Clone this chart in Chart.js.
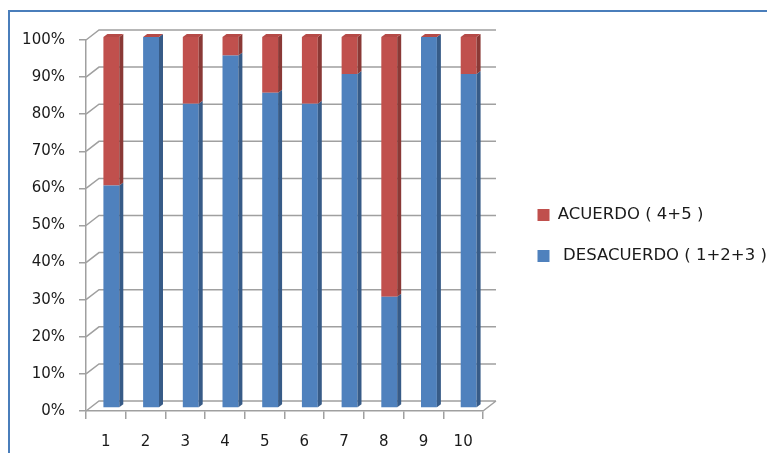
<!DOCTYPE html>
<html>
<head>
<meta charset="utf-8">
<script src="https://cdn.jsdelivr.net/npm/chart.js@4/dist/chart.umd.min.js"></script>
<style>
  html, body { margin: 0; padding: 0; background: #ffffff; overflow: hidden; }
  #wrap { position: relative; width: 767px; height: 453px; }
  #frame { position: absolute; left: 8px; top: 10px; width: 820px; height: 520px; border: 2px solid #4a7ebb; box-sizing: border-box; }
  #c { position: absolute; left: 0; top: 0; }
</style>
</head>
<body>
<div id="wrap">
  <div id="frame"></div>
  <canvas id="c" width="767" height="453"></canvas>
</div>
<script>
// Item numbers along the horizontal axis
const categories = ['1', '2', '3', '4', '5', '6', '7', '8', '9', '10'];
// Share of answers in disagreement (1+2+3), percent
const desacuerdo = [60, 100, 82, 95, 85, 82, 90, 30, 100, 90];
// Share of answers in agreement (4+5), percent
const acuerdo = [40, 0, 18, 5, 15, 18, 10, 70, 0, 10];
// Vertical axis ticks, percent
const yTicks = [0, 10, 20, 30, 40, 50, 60, 70, 80, 90, 100];

const seriesNames = [' DESACUERDO ( 1+2+3 )', 'ACUERDO ( 4+5 )'];
const frontColors = ['#4f81bd', '#c0504d'];
const sideColors = ['#375b87', '#8a3936'];
const topColors = ['#4a7ab4', '#b54a47'];
const gridGray = '#a0a0a0';

Chart.defaults.font.family = "'DejaVu Sans', sans-serif";
Chart.defaults.font.size = 15;
Chart.defaults.color = '#1a1a1a';

// Pseudo-3D look: back wall grid, floor edge and bar side/top faces
const depth3d = {
  id: 'depth3d',
  beforeDatasetsDraw(chart, args, o) {
    const { ctx, chartArea: a, scales: { y } } = chart;
    ctx.save();
    ctx.strokeStyle = o.gridColor;
    ctx.lineWidth = o.gridWidth;
    ctx.beginPath();
    y.ticks.forEach(t => {
      const py = y.getPixelForValue(t.value);
      ctx.moveTo(a.left, py);
      ctx.lineTo(a.left + o.wallDx, py - o.wallDy);
      ctx.lineTo(a.right + o.wallDx, py - o.wallDy);
    });
    ctx.moveTo(a.right, a.bottom);
    ctx.lineTo(a.right + o.wallDx, a.bottom - o.wallDy);
    ctx.stroke();
    ctx.restore();
    ctx.save();
    ctx.translate(o.barDx, o.barDy);
  },
  afterDatasetsDraw(chart, args, o) {
    const { ctx } = chart;
    const n = chart.data.datasets.length;
    for (let i = 0; i < n; i++) {
      const meta = chart.getDatasetMeta(i);
      meta.data.forEach(bar => {
        const p = bar.getProps(['x', 'y', 'base', 'width'], true);
        const x0 = p.x - p.width / 2, x1 = p.x + p.width / 2;
        const top = Math.min(p.y, p.base), bot = Math.max(p.y, p.base);
        ctx.fillStyle = sideColors[i];
        ctx.beginPath();
        ctx.moveTo(x1, top);
        ctx.lineTo(x1 + o.faceDx, top - o.faceDy);
        ctx.lineTo(x1 + o.faceDx, bot - o.faceDy);
        ctx.lineTo(x1, bot);
        ctx.closePath();
        ctx.fill();
        if (i === n - 1) {
          ctx.fillStyle = topColors[i];
          ctx.beginPath();
          ctx.moveTo(x0, top);
          ctx.lineTo(x0 + o.faceDx, top - o.faceDy);
          ctx.lineTo(x1 + o.faceDx, top - o.faceDy);
          ctx.lineTo(x1, top);
          ctx.closePath();
          ctx.fill();
        }
      });
    }
    ctx.restore();
  }
};

// empty spacer scales used only to reserve room around the plot
const spacer = (position, size) => ({
  type: 'linear',
  position,
  display: true,
  grid: { display: false },
  border: { display: false },
  ticks: { display: false },
  afterFit(s) { if (s.isHorizontal()) s.height = size; else s.width = size; }
});

new Chart(document.getElementById('c'), {
  type: 'bar',
  data: {
    labels: categories,
    datasets: [
      { label: seriesNames[0], data: desacuerdo, backgroundColor: frontColors[0], borderWidth: 0 },
      { label: seriesNames[1], data: acuerdo, backgroundColor: frontColors[1], borderWidth: 0 }
    ]
  },
  plugins: [depth3d],
  options: {
    responsive: false,
    animation: false,
    clip: false,
    layout: { padding: { top: 18, bottom: 0, left: 0, right: 0 } },
    datasets: { bar: { categoryPercentage: 1, barPercentage: 0.4 } },
    scales: {
      x: {
        stacked: true,
        grid: { offset: true, drawOnChartArea: false, drawTicks: true, tickLength: 8, color: gridGray, lineWidth: 1.5 },
        border: { display: true, color: gridGray, width: 1.5 },
        ticks: { padding: 14, font: { size: 15 }, color: '#1a1a1a' },
        afterFit(s) { s.height = 42; }
      },
      y: {
        stacked: true,
        min: 0,
        max: 100,
        afterBuildTicks(s) { s.ticks = yTicks.map(v => ({ value: v })); },
        grid: { drawOnChartArea: false, drawTicks: true, tickLength: 7, color: gridGray, lineWidth: 1.5 },
        border: { display: true, color: gridGray, width: 1.5 },
        ticks: { padding: 14, font: { size: 15 }, color: '#1a1a1a', callback: v => v + '%' },
        afterFit(s) { s.width = 86; }
      },
      gapRight: spacer('right', 30),
      gapTop: spacer('top', 22)
    },
    plugins: {
      legend: {
        position: 'right',
        reverse: true,
        maxWidth: 254,
        labels: { boxWidth: 12, boxHeight: 12, padding: 24.5, font: { size: 16.5 }, color: '#1a1a1a' }
      },
      tooltip: { enabled: false },
      depth3d: { gridColor: gridGray, gridWidth: 1.5, wallDx: 13, wallDy: 10, barDx: 5.5, barDy: -3, faceDx: 4, faceDy: 3 }
    }
  }
});
</script>
</body>
</html>
